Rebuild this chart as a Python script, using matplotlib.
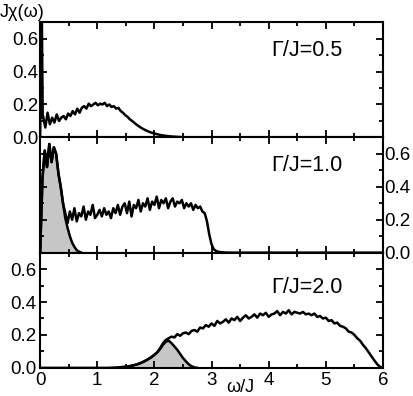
import numpy as np
import matplotlib
matplotlib.use('Agg')
import matplotlib.pyplot as plt
from matplotlib.ticker import MultipleLocator

plt.rcParams['font.family'] = ['Liberation Sans', 'DejaVu Sans']

# Gamma/J = 0.5 : spike at w=0 then broad band (grid step 0.04 from w=0.05)
spike_w = [0.0, 0.015, 0.03, 0.045]
spike_y = [0.0, 0.72, 0.72, 0.12]
band1_y = [0.13, 0.06, 0.15, 0.08, 0.12, 0.09, 0.14, 0.10, 0.12, 0.13,
           0.11, 0.145, 0.13, 0.16, 0.14, 0.175, 0.15, 0.18, 0.19, 0.175,
           0.205, 0.19, 0.20, 0.21, 0.195, 0.205, 0.20, 0.21, 0.19, 0.20,
           0.185, 0.19, 0.175, 0.18, 0.16, 0.15, 0.135, 0.125, 0.11, 0.10,
           0.088, 0.077, 0.067, 0.058, 0.05, 0.043, 0.037, 0.031, 0.027, 0.023,
           0.019, 0.016, 0.013, 0.011, 0.009, 0.007, 0.006, 0.005, 0.004, 0.003,
           0.002, 0.0015, 0.001, 0.0005, 0.0]

# Gamma/J = 1.0 : total (grid step 0.04 from w=0) and low-energy peak (shaded)
total2_y = [0.0, 0.45, 0.62, 0.52, 0.66, 0.55, 0.64, 0.60, 0.48, 0.40,
            0.30, 0.24, 0.18, 0.25, 0.20, 0.27, 0.19, 0.24, 0.22, 0.28,
            0.20, 0.25, 0.23, 0.29, 0.21, 0.23, 0.26, 0.22, 0.27, 0.23,
            0.25, 0.21, 0.27, 0.24, 0.29, 0.23, 0.28, 0.30, 0.24, 0.31,
            0.22, 0.29, 0.27, 0.32, 0.25, 0.30, 0.28, 0.33, 0.26, 0.31,
            0.29, 0.34, 0.27, 0.32, 0.30, 0.33, 0.27, 0.31, 0.33, 0.28,
            0.31, 0.30, 0.32, 0.27, 0.30, 0.28, 0.30, 0.26, 0.29, 0.27,
            0.28, 0.25, 0.24, 0.19, 0.11, 0.05, 0.02, 0.01, 0.005, 0.003,
            0.002, 0.001, 0.0]
peak2_y = [0.0, 0.45, 0.62, 0.52, 0.66, 0.55, 0.64, 0.60, 0.48, 0.40,
           0.30, 0.21, 0.15, 0.10, 0.06, 0.035, 0.015, 0.006, 0.0]

# Gamma/J = 2.0 : total (grid step 0.05 from w=1.2) and shaded peak (from w=1.6)
total3_y = [0.0, 0.001, 0.002, 0.003, 0.004, 0.006, 0.008, 0.01, 0.013, 0.017,
            0.022, 0.028, 0.036, 0.045, 0.055, 0.066, 0.08, 0.095, 0.12, 0.15,
            0.17, 0.18, 0.19, 0.185, 0.205, 0.195, 0.21, 0.215, 0.205, 0.225,
            0.23, 0.22, 0.245, 0.24, 0.26, 0.25, 0.27, 0.255, 0.285, 0.27,
            0.28, 0.295, 0.275, 0.30, 0.29, 0.31, 0.285, 0.305, 0.32, 0.30,
            0.31, 0.325, 0.305, 0.33, 0.32, 0.335, 0.31, 0.325, 0.33, 0.345,
            0.32, 0.34, 0.33, 0.35, 0.325, 0.34, 0.335, 0.33, 0.34, 0.325,
            0.33, 0.32, 0.33, 0.31, 0.315, 0.30, 0.305, 0.285, 0.29, 0.27,
            0.275, 0.255, 0.25, 0.24, 0.22, 0.215, 0.20, 0.18, 0.165, 0.14,
            0.12, 0.095, 0.07, 0.045, 0.022, 0.006, 0.0]
peak3_y = [0.013, 0.017, 0.022, 0.028, 0.036, 0.045, 0.055, 0.066, 0.08, 0.095,
           0.115, 0.14, 0.16, 0.165, 0.15, 0.13, 0.11, 0.085, 0.06, 0.04,
           0.022, 0.01, 0.003, 0.0]

labels = ['\u0393/J=0.5', '\u0393/J=1.0', '\u0393/J=2.0']

band1_w = 0.05 + 0.04 * np.arange(len(band1_y))
total2_w = 0.04 * np.arange(len(total2_y))
peak2_w = 0.04 * np.arange(len(peak2_y))
total3_w = 1.2 + 0.05 * np.arange(len(total3_y))
peak3_w = 1.6 + 0.05 * np.arange(len(peak3_y))

fig = plt.figure(figsize=(4.14, 3.96), dpi=100)
gs = fig.add_gridspec(3, 1, left=0.097, right=0.925, top=0.944, bottom=0.071, hspace=0)
axes = [fig.add_subplot(gs[i]) for i in range(3)]

gray = '#c6c6c6'
lw = 1.8
ax1, ax2, ax3 = axes

ax1.plot(spike_w, spike_y, color='black', lw=lw)
ax1.plot(np.r_[spike_w[-1], band1_w, 6.0], np.r_[spike_y[-1], band1_y, 0.0], color='black', lw=lw)

ax2.fill_between(peak2_w, peak2_y, color=gray, lw=0)
ax2.plot(peak2_w, peak2_y, color='black', lw=lw)
ax2.plot(np.r_[total2_w, 6.0], np.r_[total2_y, 0.0], color='black', lw=lw)

ax3.fill_between(peak3_w, peak3_y, color=gray, lw=0)
ax3.plot(peak3_w, peak3_y, color='black', lw=lw)
ax3.plot(np.r_[0.0, total3_w], np.r_[0.0, total3_y], color='black', lw=lw)

for i, ax in enumerate(axes):
    ax.set_xlim(0, 6)
    ax.set_ylim(0, 0.7)
    ax.xaxis.set_major_locator(MultipleLocator(1))
    ax.xaxis.set_minor_locator(MultipleLocator(0.5))
    ax.yaxis.set_major_locator(MultipleLocator(0.2))
    ax.yaxis.set_minor_locator(MultipleLocator(0.1))
    ax.tick_params(which='both', direction='in', top=True, right=True, width=1.3,
                   labelsize=13.5, pad=1)
    ax.tick_params(which='major', length=5)
    ax.tick_params(which='minor', length=3)
    for s in ax.spines.values():
        s.set_linewidth(1.5)
    ax.text(4.67, 0.53 if i < 2 else 0.49, labels[i], fontsize=15.5, ha='center', va='center')
    if i < 2:
        ax.tick_params(labelbottom=False)

ax2.tick_params(labelleft=False, labelright=True)
ax3.tick_params(axis='x', pad=3)
ax3.tick_params(axis='y', pad=2.5)
ax3.text(3.5, -0.12, '\u03c9/J', fontsize=13, ha='center', va='center')
fig.text(0.0, 0.968, 'J\u03c7(\u03c9)', fontsize=13, ha='left', va='center')

fig.savefig('out.png', dpi=100)
